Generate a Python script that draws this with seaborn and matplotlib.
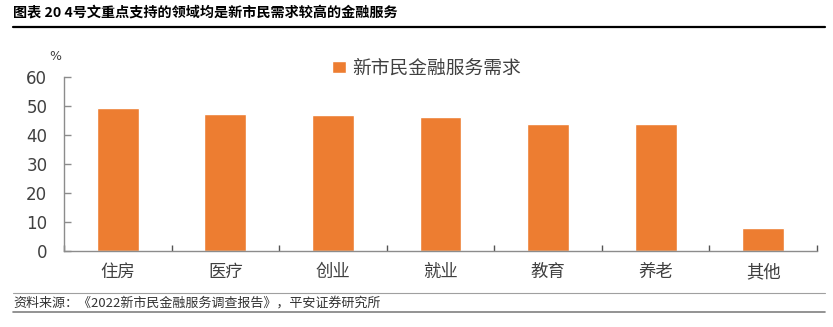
import matplotlib
matplotlib.use("Agg")
import matplotlib.pyplot as plt
import seaborn as sns
import pandas as pd
from matplotlib.lines import Line2D

categories = ["住房", "医疗", "创业", "就业", "教育", "养老", "其他"]
values = [49.1, 47.1, 46.7, 46.1, 43.6, 43.6, 7.8]
series_name = "新市民金融服务需求"
yticks = [0, 10, 20, 30, 40, 50, 60]
title = "图表 20 4号文重点支持的领域均是新市民需求较高的金融服务"
source = "资料来源：《2022新市民金融服务调查报告》，平安证券研究所"

sns.set_theme(style="white")
plt.rcParams["font.family"] = ["Noto Sans CJK SC", "DejaVu Sans"]

BAR = "#ED7D31"
GRAY = "#8c8c8c"
TXT = "#404040"

df = pd.DataFrame({"cat": categories, "val": values})

fig = plt.figure(figsize=(8.33, 3.27), dpi=100)
ax = fig.add_axes([64 / 833, 1 - 250.7 / 327, (817 - 64) / 833, (250.7 - 76.7) / 327])

sns.barplot(data=df, x="cat", y="val", color=BAR, width=0.39, saturation=1,
            label=series_name, ax=ax)

ax.set_xlim(-0.5, len(categories) - 0.5)
ax.set_ylim(0, 60)
ax.set_yticks(yticks)
ax.set_xlabel("")
ax.set_ylabel("")

for s in ["top", "right"]:
    ax.spines[s].set_visible(False)
for s in ["left", "bottom"]:
    ax.spines[s].set_color(GRAY)
    ax.spines[s].set_linewidth(1.0)

ax.tick_params(axis="y", direction="in", length=5, width=1, color=GRAY,
               pad=12, labelsize=12, labelcolor=TXT, left=True)
for lab in ax.get_yticklabels():
    lab.set_fontfamily("DejaVu Sans")
ax.set_xticks(range(len(categories)))
ax.set_xticks([i - 0.5 for i in range(len(categories) + 1)], minor=True)
ax.tick_params(axis="x", which="major", length=0, pad=9, labelsize=12.5, labelcolor=TXT)
ax.tick_params(axis="x", which="minor", direction="in", length=4, width=1, color="#555555", bottom=True)

leg = ax.legend(loc="upper left", bbox_to_anchor=(324 / 833, 1 - 50 / 327),
                bbox_transform=fig.transFigure, frameon=False,
                handlelength=0.75, handleheight=0.6, handletextpad=0.35,
                fontsize=13.5, borderaxespad=0)
for t in leg.get_texts():
    t.set_color(TXT)

fig.text(49 / 833, 1 - 56 / 327, "%", fontsize=9, color=TXT, ha="left", va="center",
         family="DejaVu Sans")

fig.text(13 / 833, 1 - 13 / 327, title, fontsize=10.2, fontweight="bold",
         color="black", ha="left", va="center")
fig.add_artist(Line2D([13 / 833, 825 / 833], [1 - 26.5 / 327] * 2,
                      transform=fig.transFigure, color="black", linewidth=1.6))

fig.add_artist(Line2D([13 / 833, 825 / 833], [1 - 292.5 / 327] * 2,
                      transform=fig.transFigure, color="#a0a0a0", linewidth=0.8))
fig.text(13 / 833, 1 - 303.5 / 327, source, fontsize=9.4, color="#333333",
         ha="left", va="center")
fig.add_artist(Line2D([13 / 833, 825 / 833], [1 - 312 / 327] * 2,
                      transform=fig.transFigure, color="#808080", linewidth=1.2))

fig.savefig("out.png", dpi=100)
